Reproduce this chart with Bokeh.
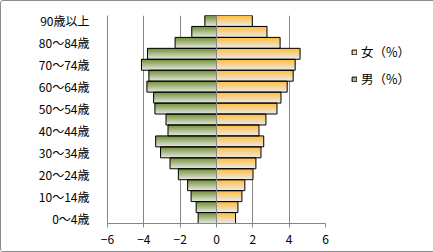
from bokeh.plotting import figure
from bokeh.models import Range1d, FixedTicker, Legend, LegendItem, Span, ColumnDataSource
from bokeh.embed import file_html
from bokeh.resources import INLINE

# ---- data ----
age_groups = ["0～4歳", "5～9歳", "10～14歳", "15～19歳", "20～24歳", "25～29歳",
              "30～34歳", "35～39歳", "40～44歳", "45～49歳", "50～54歳", "55～59歳",
              "60～64歳", "65～69歳", "70～74歳", "75～79歳", "80～84歳", "85～89歳",
              "90歳以上"]
male = [-1.01, -1.12, -1.40, -1.59, -2.10, -2.56, -3.08, -3.35, -2.67, -2.78,
        -3.39, -3.46, -3.83, -3.72, -4.13, -3.80, -2.28, -1.36, -0.64]
female = [1.05, 1.18, 1.40, 1.56, 2.01, 2.17, 2.45, 2.60, 2.34, 2.72,
          3.33, 3.55, 3.89, 4.22, 4.33, 4.60, 3.50, 2.78, 1.97]
x_ticks = [-6, -4, -2, 0, 2, 4, 6]
series_names = ["女（%）", "男（%）"]

FONT = "Noto Sans CJK JP"
GRID = "#868686"

p = figure(frame_width=218, frame_height=208,
           x_range=Range1d(-6, 6), y_range=Range1d(-0.5, len(age_groups) - 0.5),
           output_backend="svg", toolbar_location=None,
           min_border_left=106, min_border_right=107, min_border_top=14, min_border_bottom=28)
p.outline_line_color = None
p.background_fill_color = "white"
p.border_fill_color = "white"
p.styles = {"border": "1px solid #8c8c8c", "border-radius": "3px"}


def mix(c1, c2, t):
    a = [int(c1[i:i + 2], 16) for i in (1, 3, 5)]
    b = [int(c2[i:i + 2], 16) for i in (1, 3, 5)]
    return "#%02x%02x%02x" % tuple(round(a[j] + (b[j] - a[j]) * t) for j in range(3))


BAR_H = 1.0
N = 12


def gradient_bars(values, top_col, bot_col):
    ys, hs, lefts, rights, cols = [], [], [], [], []
    for i, v in enumerate(values):
        top = i + BAR_H / 2
        for k in range(N):
            frac = (N - k) / N
            h = BAR_H * frac
            ys.append(top - h / 2)
            hs.append(h)
            lefts.append(min(v, 0))
            rights.append(max(v, 0))
            cols.append(mix(top_col, bot_col, (N - 1 - k) / (N - 1)))
    src = ColumnDataSource(dict(y=ys, h=hs, left=lefts, right=rights, c=cols))
    p.hbar(y="y", height="h", left="left", right="right", source=src,
           fill_color="c", line_color=None)


gradient_bars(male, "#77933c", "#e2e5dc")
gradient_bars(female, "#ffbe3c", "#ebe8ee")

idx = list(range(len(age_groups)))
for vals in (male, female):
    src = ColumnDataSource(dict(y=idx, left=[min(v, 0) for v in vals], right=[max(v, 0) for v in vals]))
    p.hbar(y="y", height=BAR_H, left="left", right="right", source=src,
           fill_color=None, line_color="black", line_width=1)

p.add_layout(Span(location=0, dimension="height", line_color=GRID, line_width=1))

# legend swatches: renderers whose single box lies outside the visible range
off = dict(y=[-100], left=[0], right=[1])
r_f = p.hbar(y="y", height=1, left="left", right="right", source=ColumnDataSource(off),
             fill_color="#f9d88a", line_color="black", line_width=1)
r_m = p.hbar(y="y", height=1, left="left", right="right", source=ColumnDataSource(off),
             fill_color="#a9b98a", line_color="black", line_width=1)
legend = Legend(items=[LegendItem(label=series_names[0], renderers=[r_f]),
                       LegendItem(label=series_names[1], renderers=[r_m])],
                location=(26, 135), orientation="vertical")
legend.glyph_width = 6
legend.glyph_height = 6
legend.label_standoff = 4
legend.label_height = 14
legend.spacing = 8
legend.padding = 0
legend.margin = 0
legend.border_line_color = None
legend.background_fill_alpha = 0
legend.label_text_font = FONT
legend.label_text_font_size = "12.5px"
legend.label_text_color = "black"
p.add_layout(legend, "right")

# axes
p.xaxis.ticker = FixedTicker(ticks=x_ticks)
p.xaxis.axis_line_color = GRID
p.xaxis.major_tick_line_color = GRID
p.xaxis.major_tick_in = 0
p.xaxis.major_tick_out = 4
p.xaxis.minor_tick_line_color = None
p.xaxis.major_label_standoff = 7
p.xaxis.major_label_text_font = FONT
p.xaxis.major_label_text_font_size = "12px"
p.xaxis.major_label_text_color = "black"

p.yaxis.ticker = FixedTicker(ticks=idx[::2])
p.yaxis.major_label_overrides = {i: age_groups[i] for i in idx[::2]}
p.yaxis.axis_line_color = GRID
p.yaxis.major_tick_line_color = None
p.yaxis.minor_tick_line_color = None
p.yaxis.major_label_standoff = 12
p.yaxis.major_label_text_font = FONT
p.yaxis.major_label_text_font_size = "12px"
p.yaxis.major_label_text_color = "black"

p.xgrid.ticker = FixedTicker(ticks=x_ticks)
p.xgrid.grid_line_color = GRID
p.ygrid.grid_line_color = None

open("out.html", "w").write(file_html(p, INLINE))
